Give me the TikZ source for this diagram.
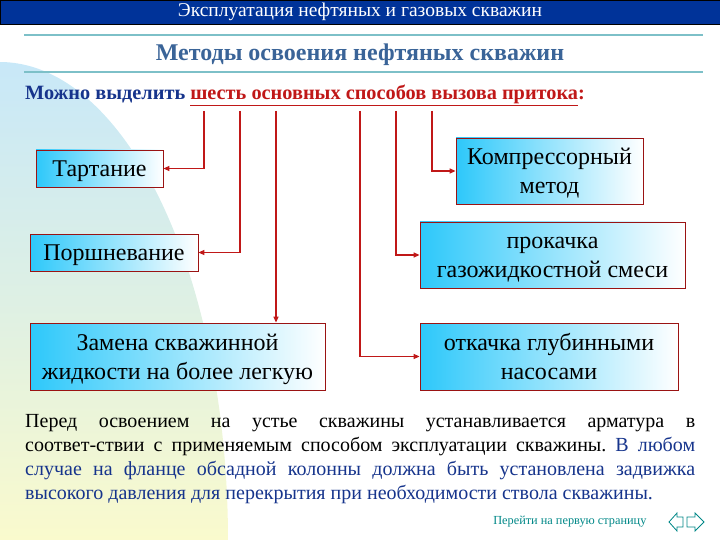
\documentclass[tikz,border=0pt]{standalone}
\usepackage{fontspec}
\setmainfont{Liberation Serif}
\usetikzlibrary{positioning, calc, arrows.meta, shadows}
\definecolor{hdrBlue}{RGB}{0, 51, 153}
\definecolor{ruleTeal}{RGB}{125, 192, 200}
\definecolor{titleBlue}{RGB}{58, 100, 152}
\definecolor{darkBlue}{RGB}{22, 52, 140}
\definecolor{linkRed}{RGB}{192, 24, 24}
\definecolor{boxCyan}{RGB}{45, 200, 250}
\definecolor{navTeal}{RGB}{0, 135, 135}
\definecolor{bgTop}{RGB}{200, 232, 248}
\definecolor{bgMid}{RGB}{222, 240, 228}
\definecolor{bgBot}{RGB}{250, 250, 205}
% struts that give every box line the same height and depth
\newcommand{\topstrut}{\rule{0pt}{22pt}}
\newcommand{\botstrut}{\rule[-6pt]{0pt}{6pt}}

\begin{document}
\begin{tikzpicture}[
    % x=1pt, y=-1pt: coordinates are the pixels of a 720x540 slide
    x=1pt, y=-1pt,
    method/.style={draw=linkRed!80!black, line width=0.8pt,
                   left color=boxCyan, right color=white,
                   drop shadow={shadow xshift=1.2pt, shadow yshift=-1.2pt, opacity=0.35},
                   inner sep=2pt, align=center,
                   font=\fontsize{24}{29}\selectfont},
    link/.style={-{Triangle[length=6pt, width=5pt]}, line width=1.4pt, linkRed},
    rule/.style={ruleTeal, line width=1.5pt}
  ]
  \useasboundingbox (0,0) rectangle (720,540);

  % ── Background: curved gradient area on the left ─────────────────────────
  \shade[top color=bgTop, bottom color=bgBot, middle color=bgMid]
        plot[domain=0:90, samples=50, smooth] ({228*sin(\x)}, {540-478*cos(\x)})
        -- (0,540) -- cycle;

  % ── Header bar and title ─────────────────────────────────────────────────
  \node[draw=black, fill=hdrBlue, minimum width=720pt, minimum height=24pt,
        text=white, font=\fontsize{19.5}{22}\selectfont]
        (hdr) at (360,12) {Эксплуатация нефтяных и газовых скважин};
  \draw[rule] (24,35) -- (703,35);
  \node[text=titleBlue, font=\fontsize{24}{28}\selectfont\bfseries]
        (title) at (360,55) {Методы освоения нефтяных скважин};
  \draw[rule] (24,72) -- (703,72);

  \node[anchor=west, inner sep=0pt, font=\fontsize{20.3}{24}\selectfont\bfseries]
        (lead) at (25,95) {\textcolor{darkBlue}{Можно выделить }%
        \textcolor{linkRed}{\underline{шесть основных способов вызова притока}:}};

  % ── Six methods ──────────────────────────────────────────────────────────
  \node[method, minimum width=127pt, minimum height=37pt] (tart)    at ( 99.5,168.5)
        {\topstrut Тартание\botstrut};
  \node[method, minimum width=168pt, minimum height=37pt] (porsh)   at (114.0,252.5)
        {\topstrut Поршневание\botstrut};
  \node[method, minimum width=295pt, minimum height=67pt] (zamena)  at (177.5,356.5)
        {\topstrut Замена скважинной\\жидкости на более легкую\botstrut};
  \node[method, minimum width=187pt, minimum height=66pt] (kompr)   at (549.5,171.0)
        {\topstrut Компрессорный\\метод\botstrut};
  \node[method, minimum width=265pt, minimum height=66pt] (prokach) at (552.5,255.0)
        {\topstrut прокачка\\газожидкостной смеси\botstrut};
  \node[method, minimum width=258pt, minimum height=67pt] (otkach)  at (549.0,356.5)
        {\topstrut откачка глубинными\\насосами\botstrut};

  % ── Connectors from the lead line ────────────────────────────────────────
  \coordinate (s1) at (204,111);
  \coordinate (s2) at (240,111);
  \coordinate (s3) at (276,111);
  \coordinate (s4) at (360,111);
  \coordinate (s5) at (396,111);
  \coordinate (s6) at (432,111);

  \draw[link] (s1) |- (tart);
  \draw[link] (s2) |- (porsh);
  \draw[link] (s3) -- (s3 |- zamena.north);
  \draw[link] (s4) |- (otkach);
  \draw[link] (s5) |- (prokach);
  \draw[link] (s6) |- (kompr);

  % ── Note text ────────────────────────────────────────────────────────────
  \node[anchor=north west, inner sep=0pt, text width=670pt, align=justify,
        font=\fontsize{20}{24}\selectfont]
        (note) at (25,414)
        {\frenchspacing\hyphenpenalty=10000\exhyphenpenalty=10000
         Перед освоением на устье скважины устанавливается арматура в\linebreak
         соответ-ствии с применяемым способом эксплуатации скважины.
         \textcolor{darkBlue}{В любом\linebreak
         случае на фланце обсадной колонны должна быть установлена задвижка\linebreak
         высокого давления для перекрытия при необходимости ствола скважины.}};

  % ── Footer navigation ────────────────────────────────────────────────────
  \node[anchor=east, text=navTeal, font=\fontsize{12.3}{14}\selectfont]
        (home) at (650,522) {Перейти на первую страницу};
  \draw[navTeal, fill=white, line width=0.8pt]
        (669,522) -- (677,513) -- (677,517) -- (683,517) -- (683,527) -- (677,527) -- (677,531) -- cycle;
  \draw[navTeal, fill=white, line width=0.8pt]
        (704,522) -- (695,513) -- (695,517) -- (687,517) -- (687,527) -- (695,527) -- (695,531) -- cycle;

\end{tikzpicture}
\end{document}
